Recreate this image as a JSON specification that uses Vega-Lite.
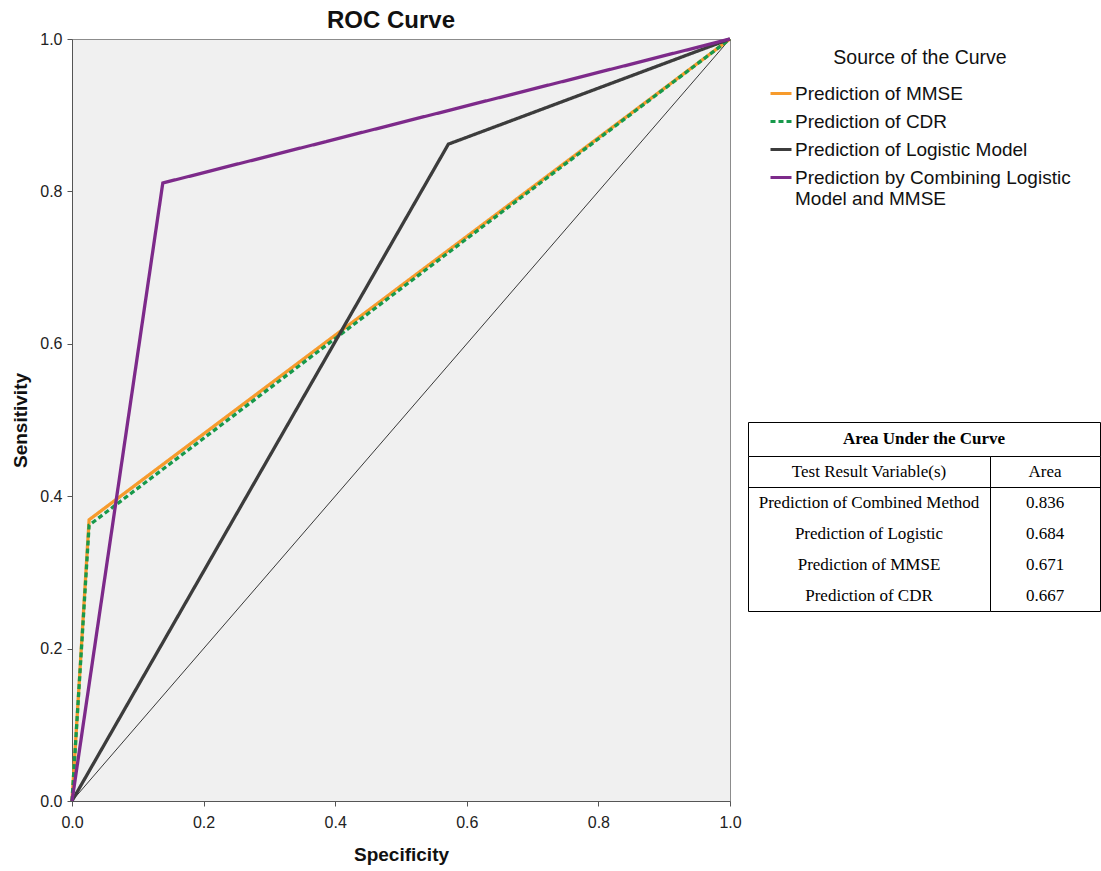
{
  "$schema": "https://vega.github.io/schema/vega-lite/v6.json",
  "padding": {"left": 11, "top": 8, "right": 0, "bottom": 5},
  "background": "white",
  "datasets": {
    "curves": [
      {"series": "Prediction of MMSE", "x": 0, "y": 0},
      {"series": "Prediction of MMSE", "x": 0.026, "y": 0.369},
      {"series": "Prediction of MMSE", "x": 1, "y": 1},
      {"series": "Prediction of CDR", "x": 0, "y": 0},
      {"series": "Prediction of CDR", "x": 0.026, "y": 0.362},
      {"series": "Prediction of CDR", "x": 1, "y": 1},
      {"series": "Prediction of Logistic Model", "x": 0, "y": 0},
      {"series": "Prediction of Logistic Model", "x": 0.572, "y": 0.862},
      {"series": "Prediction of Logistic Model", "x": 1, "y": 1},
      {"series": "Prediction by Combining Logistic Model and MMSE", "x": 0, "y": 0},
      {"series": "Prediction by Combining Logistic Model and MMSE", "x": 0.138, "y": 0.811},
      {"series": "Prediction by Combining Logistic Model and MMSE", "x": 1, "y": 1}
    ],
    "diagonal": [{"x": 0, "y": 0}, {"x": 1, "y": 1}],
    "auc": [
      {"variable": "Prediction of Combined Method", "area": 0.836},
      {"variable": "Prediction of Logistic", "area": 0.684},
      {"variable": "Prediction of MMSE", "area": 0.671},
      {"variable": "Prediction of CDR", "area": 0.667}
    ]
  },
  "bounds": "flush",
  "spacing": 18,
  "hconcat": [
    {
      "width": 658,
      "height": 762,
      "view": {"fill": "#f0f0f0", "stroke": "#8c8c8c"},
      "title": {"text": "ROC Curve", "fontSize": 24, "font": "Liberation Sans", "fontWeight": "bold", "color": "#111111", "anchor": "middle", "dx": -10, "offset": -2},
      "encoding": {
        "x": {"field": "x", "type": "quantitative", "scale": {"domain": [0, 1], "nice": false},
              "axis": {"title": "Specificity", "values": [0, 0.2, 0.4, 0.6, 0.8, 1], "format": ".1f", "labelPadding": 8, "titlePadding": 15}},
        "y": {"field": "y", "type": "quantitative", "scale": {"domain": [0, 1], "nice": false},
              "axis": {"title": "Sensitivity", "values": [0, 0.2, 0.4, 0.6, 0.8, 1], "format": ".1f", "labelPadding": 5, "titlePadding": 9}}
      },
      "layer": [
        {
          "data": {"name": "diagonal"},
          "mark": {"type": "line", "color": "#222222", "strokeWidth": 0.9},
          "encoding": {}
        },
        {
          "data": {"name": "curves"},
          "mark": {"type": "line", "strokeWidth": 3.3},
          "encoding": {
            "color": {"field": "series", "type": "nominal",
              "scale": {"domain": ["Prediction of MMSE", "Prediction of CDR", "Prediction of Logistic Model", "Prediction by Combining Logistic Model and MMSE"],
                        "range": ["#f79b2c", "#17994b", "#3c3c3c", "#7d2a8a"]},
              "legend": {"title": "Source of the Curve",
                "labelExpr": "datum.label == 'Prediction by Combining Logistic Model and MMSE' ? ['Prediction by Combining Logistic', 'Model and MMSE'] : datum.label"}},
            "strokeDash": {"field": "series", "type": "nominal",
              "scale": {"domain": ["Prediction of MMSE", "Prediction of CDR", "Prediction of Logistic Model", "Prediction by Combining Logistic Model and MMSE"],
                        "range": [[1, 0], [5, 3], [1, 0], [1, 0]]},
              "legend": {"title": "Source of the Curve",
                "labelExpr": "datum.label == 'Prediction by Combining Logistic Model and MMSE' ? ['Prediction by Combining Logistic', 'Model and MMSE'] : datum.label"}}
          }
        }
      ]
    },
    {
      "spacing": 0,
      "bounds": "flush",
      "vconcat": [
        {
          "width": 352, "height": 383,
          "view": {"stroke": null, "fill": null},
          "data": {"values": []},
          "mark": "point"
        },
        {
          "width": 352, "height": 34,
          "view": {"stroke": "#000000", "fill": "white"},
          "data": {"values": [{"title": "Area Under the Curve"}]},
          "mark": {"type": "text", "font": "Liberation Serif", "fontSize": 17, "fontWeight": "bold", "color": "#000000"},
          "encoding": {"text": {"field": "title"}}
        },
        {
          "spacing": 0,
          "bounds": "flush",
          "hconcat": [
            {
              "width": 242, "height": 155,
              "view": {"stroke": "#000000", "fill": "white"},
              "encoding": {
                "y": {"field": "variable", "type": "nominal", "bandPosition": 0.5,
                  "scale": {"type": "band", "paddingInner": 0, "paddingOuter": 0,
                            "domain": ["header", "Prediction of Combined Method", "Prediction of Logistic", "Prediction of MMSE", "Prediction of CDR"]},
                  "axis": {"title": null, "labels": false, "ticks": false, "domain": false, "grid": true, "gridColor": "#000000", "gridOpacity": 1, "gridWidth": 1, "bandPosition": 0, "values": ["Prediction of Combined Method"]}}
              },
              "layer": [
                {
                  "data": {"values": [{"variable": "header", "h": "Test Result Variable(s)"}]},
                  "mark": {"type": "text", "font": "Liberation Serif", "fontSize": 17, "color": "#000000"},
                  "encoding": {"text": {"field": "h"}}
                },
                {
                  "data": {"name": "auc"},
                  "mark": {"type": "text", "font": "Liberation Serif", "fontSize": 17, "color": "#000000"},
                  "encoding": {"text": {"field": "variable"}}
                }
              ]
            },
            {
              "width": 110, "height": 155,
              "view": {"stroke": "#000000", "fill": "white"},
              "encoding": {
                "y": {"field": "variable", "type": "nominal", "bandPosition": 0.5,
                  "scale": {"type": "band", "paddingInner": 0, "paddingOuter": 0,
                            "domain": ["header", "Prediction of Combined Method", "Prediction of Logistic", "Prediction of MMSE", "Prediction of CDR"]},
                  "axis": {"title": null, "labels": false, "ticks": false, "domain": false, "grid": true, "gridColor": "#000000", "gridOpacity": 1, "gridWidth": 1, "bandPosition": 0, "values": ["Prediction of Combined Method"]}}
              },
              "layer": [
                {
                  "data": {"values": [{"variable": "header", "h": "Area"}]},
                  "mark": {"type": "text", "font": "Liberation Serif", "fontSize": 17, "color": "#000000"},
                  "encoding": {"text": {"field": "h"}}
                },
                {
                  "data": {"name": "auc"},
                  "mark": {"type": "text", "font": "Liberation Serif", "fontSize": 17, "color": "#000000"},
                  "encoding": {"text": {"field": "area", "type": "quantitative", "format": ".3f"}}
                }
              ]
            }
          ]
        }
      ]
    }
  ],
  "config": {
    "font": "Liberation Sans",
    "view": {"stroke": "#000000", "strokeWidth": 1},
    "axis": {
      "labelFont": "Liberation Sans", "labelFontSize": 16, "labelColor": "#222222",
      "titleFont": "Liberation Sans", "titleFontSize": 19, "titleFontWeight": "bold", "titleColor": "#111111",
      "domainColor": "#555555", "tickColor": "#555555", "tickSize": 5, "grid": false,
      "labelFlush": false, "labelOverlap": false
    },
    "legend": {
      "orient": "none", "legendX": 697, "legendY": 10, "padding": 0,
      "titleFont": "Liberation Sans", "titleFontSize": 19.5, "titleFontWeight": "normal", "titleColor": "#111111",
      "titleAnchor": "middle", "titlePadding": 13,
      "labelFont": "Liberation Sans", "labelFontSize": 19, "labelColor": "#111111", "labelLimit": 400, "labelOffset": 2,
      "symbolType": "stroke", "symbolSize": 441, "symbolStrokeWidth": 3, "rowPadding": 6
    }
  }
}
